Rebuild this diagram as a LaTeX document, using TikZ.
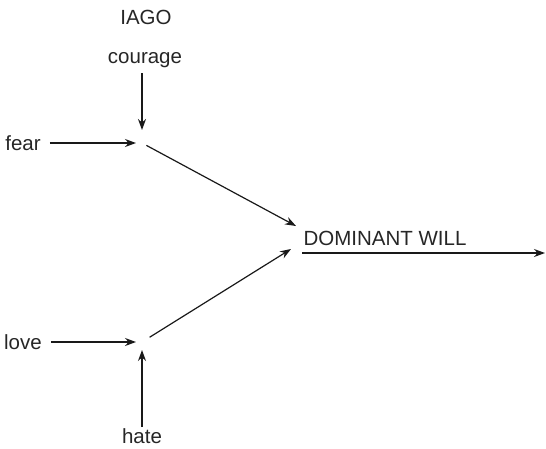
\documentclass[tikz,border=0pt]{standalone}
\usepackage{fontspec}
\setmainfont{Liberation Sans}
\usetikzlibrary{arrows.meta}
\begin{document}
\begin{tikzpicture}[x=1pt,y=-1pt,
  lbl/.style={font=\fontsize{20.5}{24}\selectfont, inner sep=0pt, text=black!85},
  conn/.style={line width=1.2pt, -{Stealth[length=11pt,width=8pt]}, black!90}]
\useasboundingbox (0,0) rectangle (546,448);
\node[lbl] (iago) at (146,17) {IAGO};
\node[lbl] (courage) at (145,60) {courage};
\node[lbl] (fear) at (23,143) {fear};
\node[lbl] (love) at (23,342) {love};
\node[lbl, anchor=base] (hate) at (142,443) {hate};
\node[lbl] (dom) at (385,238) {DOMINANT WILL};
\coordinate (j1) at (142,143);
\coordinate (j2) at (142,342);
\coordinate (d1) at (296,226);
\coordinate (d2) at (291,249);
\coordinate (s1) at (302,253);
\coordinate (out) at (545,253);
\draw[conn, shorten <=9pt, shorten >=6pt] (fear) -- (j1);
\draw[conn, shorten >=13pt] (j1 |- 0,73) -- (j1);
\draw[conn, shorten <=5pt] (j1) -- (d1);
\draw[conn, shorten <=9pt, shorten >=6pt] (love) -- (j2);
\draw[conn, shorten >=8pt] (j2 |- 0,427) -- (j2);
\draw[conn, shorten <=9pt] (j2) -- (d2);
\draw[conn] (s1) -- (out);
\end{tikzpicture}
\end{document}
